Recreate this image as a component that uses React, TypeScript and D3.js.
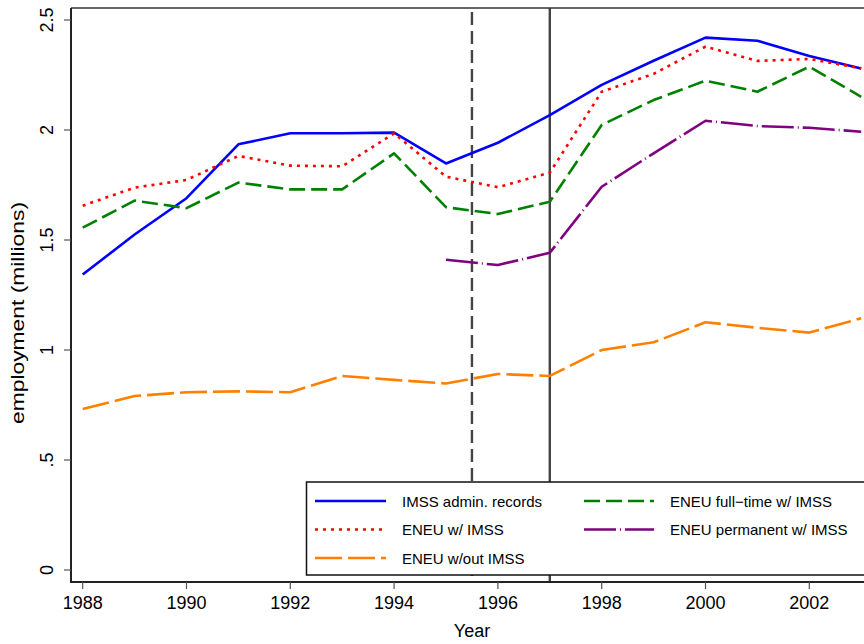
import React from "react";
import * as d3 from "d3";

const years = [1988, 1989, 1990, 1991, 1992, 1993, 1994, 1995, 1996, 1997, 1998, 1999, 2000, 2001, 2002, 2003];
const imssAdmin = [1.343, 1.525, 1.69, 1.935, 1.985, 1.985, 1.988, 1.848, 1.942, 2.068, 2.205, 2.315, 2.42, 2.406, 2.336, 2.28];
const eneuWithImss = [1.656, 1.738, 1.773, 1.882, 1.838, 1.835, 1.985, 1.788, 1.74, 1.806, 2.174, 2.255, 2.379, 2.314, 2.323, 2.28];
const eneuFullTime = [1.556, 1.679, 1.645, 1.761, 1.73, 1.73, 1.894, 1.649, 1.618, 1.674, 2.023, 2.136, 2.224, 2.174, 2.288, 2.151];
const permYears = [1995, 1996, 1997, 1998, 1999, 2000, 2001, 2002, 2003];
const eneuPermanent = [1.41, 1.386, 1.442, 1.742, 1.894, 2.042, 2.018, 2.01, 1.992];
const eneuWithoutImss = [0.732, 0.791, 0.808, 0.812, 0.808, 0.882, 0.864, 0.848, 0.891, 0.882, 1.0, 1.035, 1.126, 1.101, 1.079, 1.144];

const xTicks = [1988, 1990, 1992, 1994, 1996, 1998, 2000, 2002];
const yTicks = [0, 0.5, 1, 1.5, 2, 2.5];
const yTickLabels = ["0", ".5", "1", "1.5", "2", "2.5"];
const refLines = [
  { year: 1995.5, dashed: true },
  { year: 1997, dashed: false },
];

type Series = { label: string; xs: number[]; ys: number[]; color: string; dash: string; col: number; row: number };
const series: Series[] = [
  { label: "IMSS admin. records", xs: years, ys: imssAdmin, color: "#0000ff", dash: "none", col: 0, row: 0 },
  { label: "ENEU w/ IMSS", xs: years, ys: eneuWithImss, color: "#ff0000", dash: "3 5", col: 0, row: 1 },
  { label: "ENEU w/out IMSS", xs: years, ys: eneuWithoutImss, color: "#ff8000", dash: "27 6", col: 0, row: 2 },
  { label: "ENEU full\u2212time w/ IMSS", xs: years, ys: eneuFullTime, color: "#008000", dash: "16 6", col: 1, row: 0 },
  { label: "ENEU permanent w/ IMSS", xs: permYears, ys: eneuPermanent, color: "#800080", dash: "32 4 1 4", col: 1, row: 1 },
];

const W = 864;
const H = 644;
const axisX = 71;
const axisY = 582;
const topY = 8;
const FONT = "'Liberation Sans', Arial, Helvetica, sans-serif";

export default function App() {
  const x = d3.scaleLinear().domain([1988, 2003]).range([82.7, 861.2]);
  const y = d3.scaleLinear().domain([0, 2.5]).range([570, 20]);
  const line = (xs: number[], ys: number[]) =>
    d3.line<number>().x((_, i) => x(xs[i])).y((v) => y(v))(ys) || "";

  const legX = 306.5;
  const legY = 482;
  const legB = 575;
  const rowY = [501, 529.5, 558];
  const sampleX = [[315, 386], [584, 654]];
  const textX = [402, 670];

  return (
    <svg
      width={W}
      height={H}
      style={{ position: "fixed", left: 0, top: 0, background: "#fff" }}
      fontFamily={FONT}
    >
      <rect x={0} y={0} width={W} height={H} fill="#fff" />
      {refLines.map((r, i) => (
        <line
          key={i}
          x1={x(r.year)}
          x2={x(r.year)}
          y1={r.dashed ? 12 : topY}
          y2={axisY}
          stroke="#444"
          strokeWidth={2.4}
          strokeDasharray={r.dashed ? "13 6" : "none"}
        />
      ))}
      {series.map((s, i) => (
        <path
          key={i}
          d={line(s.xs, s.ys)}
          fill="none"
          stroke={s.color}
          strokeWidth={2.6}
          strokeDasharray={s.dash}
          strokeLinejoin="round"
        />
      ))}
      <line x1={axisX} x2={W} y1={topY} y2={topY} stroke="#333" strokeWidth={1.5} />
      <line x1={axisX} x2={axisX} y1={topY} y2={axisY + 1} stroke="#222" strokeWidth={2} />
      <line x1={axisX - 1} x2={W} y1={axisY} y2={axisY} stroke="#222" strokeWidth={2} />
      {yTicks.map((t, i) => (
        <g key={i}>
          <line x1={axisX - 7} x2={axisX} y1={y(t)} y2={y(t)} stroke="#555" strokeWidth={1.2} />
          <text
            transform={`translate(53,${y(t)}) rotate(-90)`}
            textAnchor="middle"
            fontSize={18}
            fill="#000"
          >
            {yTickLabels[i]}
          </text>
        </g>
      ))}
      {xTicks.map((t) => (
        <g key={t}>
          <line x1={x(t)} x2={x(t)} y1={axisY} y2={axisY + 7} stroke="#555" strokeWidth={1.2} />
          <text x={x(t)} y={609} textAnchor="middle" fontSize={18} fill="#000">
            {t}
          </text>
        </g>
      ))}
      <text x={472} y={637} textAnchor="middle" fontSize={18} fill="#000">
        Year
      </text>
      <text
        transform={`translate(24,313) rotate(-90)`}
        textAnchor="middle"
        fontSize={18}
        textLength={222}
        lengthAdjust="spacingAndGlyphs"
        fill="#000"
      >
        employment (millions)
      </text>
      <rect x={legX} y={legY} width={W - legX + 10} height={legB - legY} fill="#fff" stroke="#111" strokeWidth={1.5} />
      {series.map((s, i) => (
        <g key={i}>
          <line
            x1={sampleX[s.col][0]}
            x2={sampleX[s.col][1]}
            y1={rowY[s.row]}
            y2={rowY[s.row]}
            stroke={s.color}
            strokeWidth={2.6}
            strokeDasharray={s.dash}
          />
          <text x={textX[s.col]} y={rowY[s.row] + 5.5} fontSize={15} fill="#000">
            {s.label}
          </text>
        </g>
      ))}
    </svg>
  );
}
